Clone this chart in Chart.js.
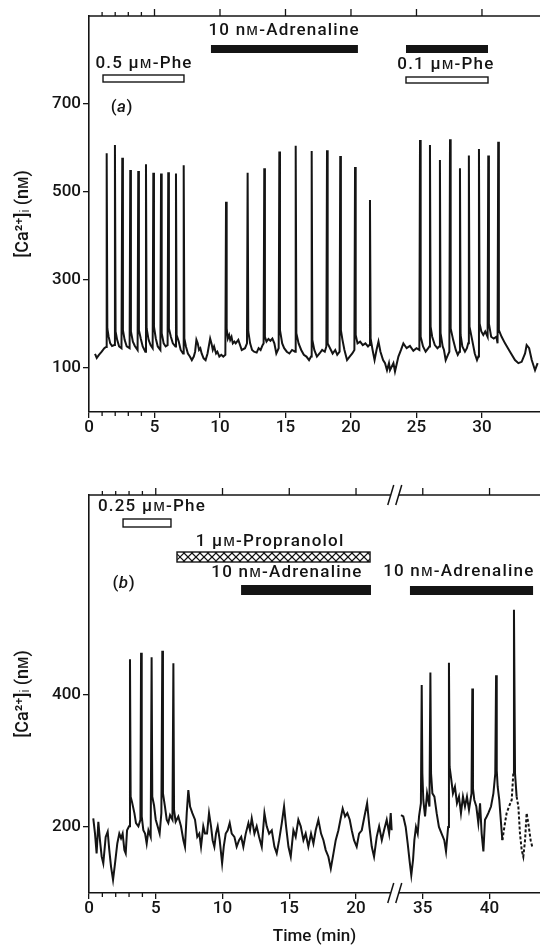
<!DOCTYPE html>
<html>
<head>
<meta charset="utf-8">
<script src="https://cdn.jsdelivr.net/npm/chart.js@4.4.0/dist/chart.umd.min.js"></script>
<style>
body { margin: 0; background: #fff; }
#wrapA { position: absolute; left: 0; top: 0; width: 540px; height: 470px; }
#wrapB { position: absolute; left: 0; top: 470px; width: 540px; height: 480px; }
</style>
</head>
<body>
<div id="wrapA"><canvas id="panelA"></canvas></div>
<div id="wrapB"><canvas id="panelB"></canvas></div>
<script>
var FONT = 'Roboto, "Liberation Sans", Arial, sans-serif';
var WEIGHT = 500;
var INK = '#141414';

// ---- axes ----
var xTicksA = [0, 5, 10, 15, 20, 25, 30];
var yTicksA = [100, 300, 500, 700];
var minorTicks = [1, 2, 3, 4];
var xTicksB = [0, 5, 10, 15, 20, 25, 30];          // positions on the cut time axis
var xTickLabelsB = ['0', '5', '10', '15', '20', '35', '40'];
var yTicksB = [200, 400];
var breakAt = 22.9;     // where the time axis of (b) is cut
var breakShift = 10;    // minutes left out at the cut

// ---- drug applications (min) ----
var drugNamesA = ['0.5 μᴍ-Phe', '10 nᴍ-Adrenaline', '', '0.1 μᴍ-Phe'];
var drugStartA = [1.07, 9.31, 24.2, 24.2];
var drugEndA = [7.25, 20.53, 30.46, 30.46];
var labelAtA = [4.2, 14.9, 0, 27.25];

var drugNamesB = ['0.25 μᴍ-Phe', '1 μᴍ-Propranolol', '10 nᴍ-Adrenaline', '10 nᴍ-Adrenaline'];
var drugStartB = [2.55, 6.59, 11.39, 34.04];
var drugEndB = [6.14, 21.05, 21.12, 43.26];
var labelAtB = [4.72, 13.56, 14.83, 37.7];

// ---- [Ca2+]i traces, [time (min), nM] ----
var traceA = [
  [0.46,132],[0.59,123],[0.76,130],[0.97,137],[1.17,145],[1.30,148],
  [1.35,588],[1.40,190],[1.50,171],[1.62,156],[1.76,150],[1.93,152],
  [1.98,607],[2.03,183],[2.15,164],[2.30,149],[2.48,145],
  [2.54,578],[2.59,186],[2.72,164],[2.88,149],[3.10,145],
  [3.15,550],[3.20,183],[3.35,160],[3.50,150],[3.71,141],
  [3.76,548],[3.81,186],[3.95,167],[4.10,149],[4.30,137],
  [4.35,563],[4.40,190],[4.55,164],[4.70,152],[4.86,145],
  [4.91,544],[4.96,194],[5.10,167],[5.25,149],[5.45,141],
  [5.50,542],[5.55,179],[5.70,156],[5.85,149],[6.00,152],
  [6.05,545],[6.10,190],[6.25,171],[6.40,156],[6.60,149],
  [6.64,542],[6.69,175],[6.85,160],[7.00,141],[7.18,133],
  [7.23,561],[7.28,167],[7.40,149],[7.55,133],[7.70,126],[7.85,118],[8.00,126],[8.10,137],[8.20,164],
  [8.30,156],[8.40,141],[8.50,145],[8.60,133],[8.75,122],[8.90,118],[9.05,133],[9.25,167],[9.35,156],
  [9.45,141],[9.55,149],[9.70,133],[9.80,137],[9.95,126],[10.10,130],[10.25,126],[10.41,130],
  [10.46,478],[10.51,190],[10.60,167],[10.70,175],[10.78,164],[10.88,171],[10.98,156],[11.10,160],
  [11.20,156],[11.40,164],[11.66,141],[11.91,145],[12.06,156],
  [12.11,544],[12.16,183],[12.30,156],[12.45,141],[12.60,137],[12.80,135],[12.95,145],[13.10,141],[13.25,152],[13.33,156],
  [13.38,554],[13.43,171],[13.55,160],[13.70,166],[13.85,162],[14.00,167],[14.15,156],[14.30,133],[14.48,145],
  [14.53,592],[14.58,186],[14.75,156],[14.90,145],[15.10,137],[15.30,133],[15.50,141],[15.73,137],
  [15.78,605],[15.83,179],[16.00,156],[16.20,141],[16.40,130],[16.60,126],[16.80,118],[16.95,126],
  [17.00,593],[17.05,164],[17.20,141],[17.40,126],[17.60,133],[17.80,141],[18.00,137],[18.12,149],
  [18.17,595],[18.22,156],[18.40,145],[18.60,133],[18.80,141],[18.95,130],[19.13,137],
  [19.18,582],[19.23,186],[19.35,164],[19.50,141],[19.70,118],[19.90,126],[20.10,133],[20.26,141],
  [20.31,557],[20.36,175],[20.50,156],[20.70,160],[20.90,152],[21.10,156],[21.30,149],[21.40,152],
  [21.45,482],[21.50,167],[21.65,141],[21.80,118],[21.95,141],[22.10,160],[22.25,137],[22.45,118],
  [22.60,111],[22.75,95],[22.90,111],[22.98,95],[23.24,111],[23.36,92],[23.62,126],[23.82,141],
  [24.00,156],[24.25,145],[24.50,150],[24.76,139],[25.00,145],[25.22,141],
  [25.27,618],[25.32,171],[25.50,149],[25.70,137],[25.90,145],[25.98,149],
  [26.03,607],[26.08,194],[26.20,171],[26.40,152],[26.60,145],[26.74,149],
  [26.79,573],[26.84,179],[27.00,149],[27.10,141],[27.23,118],[27.40,130],[27.51,137],
  [27.56,620],[27.61,190],[27.80,164],[28.00,141],[28.15,130],[28.27,137],
  [28.32,554],[28.37,175],[28.50,149],[28.70,137],[28.85,145],[28.95,156],
  [29.00,583],[29.05,194],[29.25,164],[29.45,133],[29.62,118],[29.72,126],
  [29.77,598],[29.82,201],[29.95,183],[30.10,175],[30.25,183],[30.43,171],
  [30.48,583],[30.53,201],[30.70,171],[30.90,167],[31.10,171],[31.19,156],
  [31.24,614],[31.29,186],[31.50,171],[31.76,156],[32.14,137],[32.52,118],[32.78,111],[33.03,114],
  [33.29,133],[33.41,152],[33.60,145],[33.80,118],[34.05,95],[34.25,111]
];

var traceB1 = [
  [0.32,213],[0.45,190],[0.57,160],[0.70,208],[0.82,180],[0.95,155],[1.07,145],[1.25,185],[1.40,193],
  [1.52,165],[1.65,140],[1.80,120],[1.95,145],[2.12,175],[2.27,190],[2.40,183],[2.52,190],[2.65,165],
  [2.75,160],[2.85,195],[3.00,201],
  [3.07,454],[3.12,246],[3.22,238],[3.40,221],[3.52,206],[3.70,201],[3.85,211],
  [3.90,464],[3.95,216],[4.07,195],[4.20,190],[4.32,175],[4.45,195],[4.62,185],
  [4.69,457],[4.74,246],[4.87,233],[5.00,211],[5.14,201],[5.29,190],[5.42,221],
  [5.49,467],[5.54,251],[5.69,231],[5.82,211],[5.94,206],[6.07,218],[6.25,211],
  [6.32,448],[6.37,226],[6.49,208],[6.69,216],[6.89,201],[7.07,180],[7.19,170],[7.32,221],[7.44,256],
  [7.57,231],[7.74,221],[7.94,211],[8.11,185],[8.26,190],[8.39,170],[8.56,201],[8.69,190],[8.84,190],
  [8.99,221],[9.14,201],[9.26,180],[9.39,170],[9.51,190],[9.64,201],[9.79,180],[9.97,145],[10.09,170],
  [10.24,190],[10.39,195],[10.54,206],[10.69,190],[10.89,185],[11.06,170],[11.24,180],[11.40,185],
  [11.56,170],[11.74,190],[11.94,206],[12.06,195],[12.19,213],[12.39,190],[12.56,201],[12.74,185],
  [12.94,170],[13.14,221],[13.31,201],[13.49,190],[13.69,195],[13.89,170],[14.06,160],[14.24,180],
  [14.44,206],[14.61,231],[14.76,201],[14.94,170],[15.11,155],[15.31,195],[15.48,185],[15.68,211],
  [15.86,201],[16.06,180],[16.23,190],[16.43,170],[16.63,190],[16.81,175],[16.98,195],[17.18,211],
  [17.38,190],[17.56,180],[17.73,165],[17.93,155],[18.11,137],[18.31,160],[18.48,180],[18.68,195],
  [18.88,216],[19.00,228],[19.18,216],[19.35,221],[19.53,211],[19.68,195],[19.85,180],[20.05,170],
  [20.23,190],[20.43,195],[20.63,216],[20.83,236],[21.00,201],[21.18,170],[21.35,155],[21.55,185],
  [21.73,201],[21.93,180],[22.10,195],[22.30,211],[22.48,190],[22.60,221],[22.67,195]
];

var traceB2 = [
  [33.37,218],[33.54,216],[33.72,200],[33.87,175],[34.02,147],[34.14,127],[34.27,150],[34.37,180],
  [34.49,200],[34.62,190],[34.72,216],[34.86,236],
  [34.92,415],[34.97,281],[35.04,241],[35.17,216],[35.32,251],[35.50,231],
  [35.57,434],[35.62,281],[35.72,251],[35.87,246],[36.04,221],[36.21,200],[36.41,190],[36.61,180],
  [36.74,163],[36.90,200],
  [36.96,449],[37.01,291],[37.11,276],[37.26,251],[37.41,261],[37.56,236],[37.71,246],[37.86,221],
  [38.01,246],[38.16,231],[38.31,246],[38.46,226],[38.65,251],
  [38.71,410],[38.76,258],[38.86,241],[39.01,231],[39.16,206],[39.29,236],[39.41,190],[39.54,163],
  [39.66,211],[39.79,216],[39.91,221],[40.11,231],[40.29,251],[40.43,281],
  [40.49,430],[40.54,286],[40.61,261],[40.73,241],[40.86,206],[40.96,180],[41.11,200],[41.28,221],
  [41.46,231],[41.66,241],[41.78,281],
  [41.83,529],[41.91,281],[42.03,246],[42.16,231],[42.28,190],[42.41,165],[42.53,155],[42.66,180],
  [42.78,221],[42.90,206],[43.08,180],[43.20,170]
];

// time in (b) after the cut is drawn shifted left
function cutB(t) { return t > 30 ? t - breakShift : t; }

function toXY(arr, f) {
  return arr.map(function (p) { return { x: f ? f(p[0]) : p[0], y: p[1] }; });
}

function fontStr(style) { return (style || '') + ' ' + WEIGHT + ' 17px ' + FONT; }

function panelLetter(ctx, letter, cx, cy) {
  ctx.textAlign = 'left';
  ctx.textBaseline = 'middle';
  ctx.font = fontStr();
  var wp = ctx.measureText('(').width;
  ctx.font = fontStr('italic');
  var wl = ctx.measureText(letter).width;
  var x = cx - (2 * wp + wl) / 2;
  ctx.font = fontStr(); ctx.fillText('(', x, cy);
  ctx.font = fontStr('italic'); ctx.fillText(letter, x + wp + 0.5, cy);
  ctx.font = fontStr(); ctx.fillText(')', x + wp + wl + 1, cy);
}

// top border, extra ticks, axis cut, drug bars and panel letter
function framePlugin(cfg) {
  return {
    id: 'frame',
    afterDraw: function (chart) {
      var ctx = chart.ctx, a = chart.chartArea, xs = chart.scales.x;
      ctx.save();
      ctx.strokeStyle = INK;
      ctx.lineWidth = 1.6;
      ctx.beginPath(); ctx.moveTo(a.left, a.top); ctx.lineTo(a.right, a.top); ctx.stroke();
      ctx.lineWidth = 1.3;
      cfg.majors.forEach(function (v) {
        if (v === 0) return;
        var px = xs.getPixelForValue(v);
        ctx.beginPath(); ctx.moveTo(px, a.top); ctx.lineTo(px, a.top - 7); ctx.stroke();
      });
      minorTicks.forEach(function (v) {
        var px = xs.getPixelForValue(v);
        ctx.beginPath(); ctx.moveTo(px, a.top); ctx.lineTo(px, a.top - 4); ctx.stroke();
        ctx.beginPath(); ctx.moveTo(px, a.bottom); ctx.lineTo(px, a.bottom + 4); ctx.stroke();
      });
      if (cfg.cut) {
        var bx = xs.getPixelForValue(cfg.cut);
        [a.top, a.bottom].forEach(function (y) {
          ctx.fillStyle = '#fff';
          ctx.fillRect(bx - 4, y - 2, 8, 4);
          ctx.lineWidth = 1.5;
          [-4, 4].forEach(function (dx) {
            ctx.beginPath(); ctx.moveTo(bx + dx - 3, y + 10); ctx.lineTo(bx + dx + 3, y - 10); ctx.stroke();
          });
        });
      }
      // drug bars
      ctx.lineWidth = 1.4;
      cfg.drugs.forEach(function (d) {
        var x0 = xs.getPixelForValue(d.from), x1 = xs.getPixelForValue(d.to);
        if (d.kind === 'solid') {
          ctx.fillStyle = INK;
          ctx.fillRect(x0, d.top, x1 - x0, d.h);
        } else {
          ctx.fillStyle = '#fff';
          ctx.fillRect(x0, d.top, x1 - x0, d.h);
          if (d.kind === 'hatch') {
            ctx.save();
            ctx.beginPath(); ctx.rect(x0, d.top, x1 - x0, d.h); ctx.clip();
            ctx.lineWidth = 1.2;
            for (var hx = x0 - d.h; hx < x1 + d.h; hx += 8) {
              ctx.beginPath(); ctx.moveTo(hx, d.top + d.h); ctx.lineTo(hx + d.h, d.top); ctx.stroke();
              ctx.beginPath(); ctx.moveTo(hx, d.top); ctx.lineTo(hx + d.h, d.top + d.h); ctx.stroke();
            }
            ctx.restore();
          }
          ctx.strokeRect(x0, d.top, x1 - x0, d.h);
        }
        if (d.text) {
          ctx.fillStyle = INK;
          ctx.font = fontStr();
          ctx.letterSpacing = '1.2px';
          ctx.textAlign = 'center';
          ctx.textBaseline = 'middle';
          ctx.fillText(d.text, xs.getPixelForValue(d.labelAt), d.textY);
          ctx.letterSpacing = '0px';
        }
      });
      ctx.fillStyle = INK;
      panelLetter(ctx, cfg.letter[0], cfg.letter[1], cfg.letter[2]);
      ctx.restore();
    }
  };
}

function makeScales(o) {
  var tickFont = { family: FONT, size: 17, weight: WEIGHT };
  return {
    x: {
      type: 'linear', min: 0, max: o.xMax,
      afterBuildTicks: function (s) { s.ticks = o.xTicks.map(function (v) { return { value: v }; }); },
      afterFit: function (s) { s.height = o.xHeight; },
      ticks: {
        color: INK, font: tickFont, padding: 0, maxRotation: 0, autoSkip: false,
        callback: function (v, i) { return o.xLabels ? o.xLabels[i] : String(v); }
      },
      grid: { drawOnChartArea: false, color: INK, lineWidth: 1.3, tickLength: 6 },
      border: { color: INK, width: 1.6 },
      title: {
        display: !!o.xTitle, text: o.xTitle || '', color: INK,
        font: tickFont, padding: { top: 0, bottom: 3 }
      }
    },
    y: {
      min: o.yMin, max: o.yMax,
      afterBuildTicks: function (s) { s.ticks = o.yTicks.map(function (v) { return { value: v }; }); },
      afterFit: function (s) { s.width = 89; },
      ticks: { color: INK, font: tickFont, padding: 2 },
      grid: { drawOnChartArea: false, color: INK, lineWidth: 1.3, tickLength: 6 },
      border: { color: INK, width: 1.6 },
      title: {
        display: true, text: '[Ca²⁺]ᵢ (nᴍ)', color: INK,
        font: { family: FONT, size: 18, weight: WEIGHT }, padding: { top: 13, bottom: 0 }
      }
    }
  };
}

function buildDrugs(names, starts, ends, labelAt, rows, f) {
  return names.map(function (n, i) {
    var r = rows[i];
    return {
      text: n, from: f(starts[i]), to: f(ends[i]), labelAt: f(labelAt[i]),
      kind: r[0], top: r[1], h: r[2], textY: r[3]
    };
  });
}

var same = function (t) { return t; };

var drugsA = buildDrugs(drugNamesA, drugStartA, drugEndA, labelAtA,
  [['open', 75, 7, 64], ['solid', 45, 8, 31], ['solid', 45, 8, 0], ['open', 77, 6, 65]], same);
var drugsB = buildDrugs(drugNamesB, drugStartB, drugEndB, labelAtB,
  [['open', 49, 8, 37], ['hatch', 82, 10, 72], ['solid', 115, 10, 103], ['solid', 116, 9, 102]], cutB);

var lineStyle = { borderColor: INK, borderWidth: 2, pointRadius: 0, tension: 0, fill: false };

new Chart(document.getElementById('panelA'), {
  type: 'line',
  data: { datasets: [Object.assign({ data: toXY(traceA) }, lineStyle)] },
  options: {
    responsive: true, maintainAspectRatio: false, animation: false, events: [],
    layout: { padding: { top: 16, right: 0, bottom: 0, left: 0 } },
    plugins: { legend: { display: false }, tooltip: { enabled: false } },
    scales: makeScales({ xMax: 34.43, xTicks: xTicksA, xHeight: 58, yMin: 0, yMax: 900, yTicks: yTicksA })
  },
  plugins: [framePlugin({ majors: xTicksA, drugs: drugsA, letter: ['a', 121, 108] })]
});

new Chart(document.getElementById('panelB'), {
  type: 'line',
  data: {
    datasets: [
      Object.assign({ data: toXY(traceB1) }, lineStyle),
      Object.assign({
        data: toXY(traceB2, cutB),
        segment: {
          borderDash: function (c) {
            var x = c.p0.parsed.x;
            return (x > 30.9 && x < 31.75) || x > 31.95 ? [3, 2] : undefined;
          }
        }
      }, lineStyle)
    ]
  },
  options: {
    responsive: true, maintainAspectRatio: false, animation: false, events: [],
    layout: { padding: { top: 25, right: 0, bottom: 0, left: 0 } },
    plugins: { legend: { display: false }, tooltip: { enabled: false } },
    scales: makeScales({
      xMax: 33.78, xTicks: xTicksB, xLabels: xTickLabelsB, xHeight: 57, xTitle: 'Time (min)',
      yMin: 100, yMax: 703, yTicks: yTicksB
    })
  },
  plugins: [framePlugin({ majors: xTicksB, drugs: drugsB, cut: breakAt, letter: ['b', 123, 114] })]
});
</script>
</body>
</html>
